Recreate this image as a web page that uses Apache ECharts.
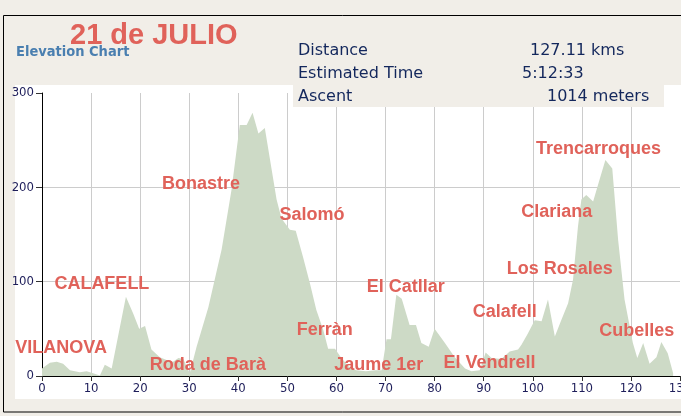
<!DOCTYPE html>
<html><head><meta charset="utf-8">
<script src="https://cdn.jsdelivr.net/npm/echarts@6/dist/echarts.min.js"></script>
<style>html,body{margin:0;padding:0;background:#f1eee8;}#c{width:681px;height:416px;}</style>
</head><body><div id="c"></div>
<script>
// Elevation profile (distance km, elevation m)
const distKm = [0,1.6,3,4.3,5.7,7.7,9.1,10.4,11.8,12.8,14.2,17.1,18.6,19.8,21,22.3,24,25.4,26.7,27.8,28.8,30.1,31.5,33.9,36.6,38.6,40.3,41.7,42.9,44.1,45.4,47.8,48.8,50.5,51.7,53.2,54.6,55.9,57.3,58.3,59.7,61,62.5,64,66,68,69.2,70.2,71.1,72.2,73.3,74.9,76.2,77.3,78.8,80,82.1,84.1,86.2,87.5,89.2,90.4,91.6,93.6,95.3,97,97.7,99,100.4,101.8,103.1,104.5,105.8,107.2,108.2,109.2,109.9,110.9,112.3,113.6,114.8,116.2,117.4,118.7,120.4,121.3,122.5,123.8,125.2,126.2,127.5,128.6];
const elevM  = [8,14,15,13,6,4,5,3,0.5,12,8,84,66,50,53,28,20,17,15,19,18,3,31,73,134,197,266,266,279,257,263,187,167,155,154,126,98,70,49,29,29,19,10,6,5,6,6,39,39,86,82,54,54,35,31,50,35,20,8,5,6,25,19,18,26,28,33,45,59,58,81,42,59,77,102,158,187,192,185,208,229,220,144,81,35,19,35,13,20,36,24,3];
// Place names placed at (km, elevation)
const placeNames = ['VILANOVA','CALAFELL','Roda de Barà','Bonastre','Salomó','Ferràn','Jaume 1er','El Catllar','El Vendrell','Calafell','Los Rosales','Clariana','Trencarroques','Cubelles'];
const placeKm    = [3.9,12.2,33.8,32.4,55,57.6,68.6,74.1,91.2,94.3,105.5,104.9,113.4,121.2];
const placeElev  = [29.7,97.6,11.2,203.6,170.7,48.8,11.2,94.4,13.3,67.9,113.5,173.9,240.7,47.7];
// Header texts
const chartTitle = '21 de JULIO';
const chartSubtitle = 'Elevation Chart';
const infoLabels = ['Distance','Estimated Time','Ascent'];
const infoValues = ['127.11 kms','5:12:33','1014 meters'];
const xTicks = {min:0, max:130, step:10};
const yTicks = {min:0, max:300, step:100};

const chart = echarts.init(document.getElementById('c'), null, {renderer:'canvas'});
const profile = distKm.map((d,i)=>[d, elevM[i]]);
const places = placeNames.map((n,i)=>({value:[placeKm[i], placeElev[i]], name:n}));
const infoColor = '#13275c';
const valueX = [530,522,547];
const rowY = [51,74,97];
const graphics = [
  {type:'rect', z:-10, silent:true, shape:{x:3.5,y:15.5,width:720,height:396.5}, style:{fill:'#f1eee8', stroke:'#000', lineWidth:1}},
  {type:'rect', z:-9, silent:true, shape:{x:15,y:85,width:700,height:314}, style:{fill:'#ffffff'}},
  {type:'rect', z:50, silent:true, shape:{x:293,y:85,width:371,height:22}, style:{fill:'#f1eee8'}},
  {type:'text', z:60, left:70, top:21, style:{text:chartTitle, fill:'#e0625a', font:'bold 29px "Liberation Sans", Arial, sans-serif'}},
  {type:'text', z:60, x:16, y:52, style:{text:chartSubtitle, fill:'#4a7fb0', font:'bold 14.5px "DejaVu Sans Condensed", "DejaVu Sans", sans-serif', verticalAlign:'middle'}}
];
infoLabels.forEach((t,i)=>{
  graphics.push({type:'text', z:60, x:298, y:rowY[i], style:{text:t, fill:infoColor, font:'16px "DejaVu Sans", Verdana, sans-serif', verticalAlign:'middle'}});
  graphics.push({type:'text', z:60, x:valueX[i], y:rowY[i], style:{text:infoValues[i], fill:infoColor, font:'16px "DejaVu Sans", Verdana, sans-serif', verticalAlign:'middle'}});
});
const gridCol = '#cccccc';
const tickFont = {color:'#1e1e5a', fontSize:13, fontFamily:'"Liberation Sans Narrow", "DejaVu Sans Condensed", sans-serif'};
chart.setOption({
  animation:false,
  backgroundColor:'transparent',
  grid:{left:42, right:1, top:93, bottom:40, containLabel:false, outerBoundsMode:'none'},
  xAxis:{type:'value', min:xTicks.min, max:xTicks.max, interval:xTicks.step,
    axisLine:{show:true, onZero:false, lineStyle:{color:'#000', width:1}},
    axisTick:{show:true, length:5, lineStyle:{color:'#333'}},
    axisLabel:Object.assign({margin:6, hideOverlap:false, showMaxLabel:true}, tickFont),
    splitLine:{show:true, lineStyle:{color:[gridCol,gridCol,gridCol,gridCol,gridCol,gridCol,gridCol,gridCol,gridCol,gridCol,gridCol,gridCol,gridCol,'transparent'], width:1}}},
  yAxis:{type:'value', min:yTicks.min, max:yTicks.max, interval:yTicks.step,
    axisLine:{show:true, lineStyle:{color:'#000', width:1}},
    axisTick:{show:true, length:6, lineStyle:{color:'#333'}},
    axisLabel:Object.assign({margin:8}, tickFont),
    splitLine:{show:true, lineStyle:{color:[gridCol,gridCol,gridCol,'transparent'], width:1}}},
  series:[
    {type:'line', data:profile, symbol:'none', smooth:false, z:2,
      lineStyle:{width:0, color:'#cddac6'}, areaStyle:{color:'#cddac6', opacity:1}},
    {type:'scatter', data:places, symbolSize:0, z:5, silent:true, itemStyle:{opacity:1},
      label:{show:true, position:'inside', formatter:p=>p.name, color:'#e0625a', opacity:1,
        fontSize:18, fontWeight:'bold', fontFamily:'"Liberation Sans", Arial, sans-serif'}}
  ],
  graphic:graphics
});
</script></body></html>
